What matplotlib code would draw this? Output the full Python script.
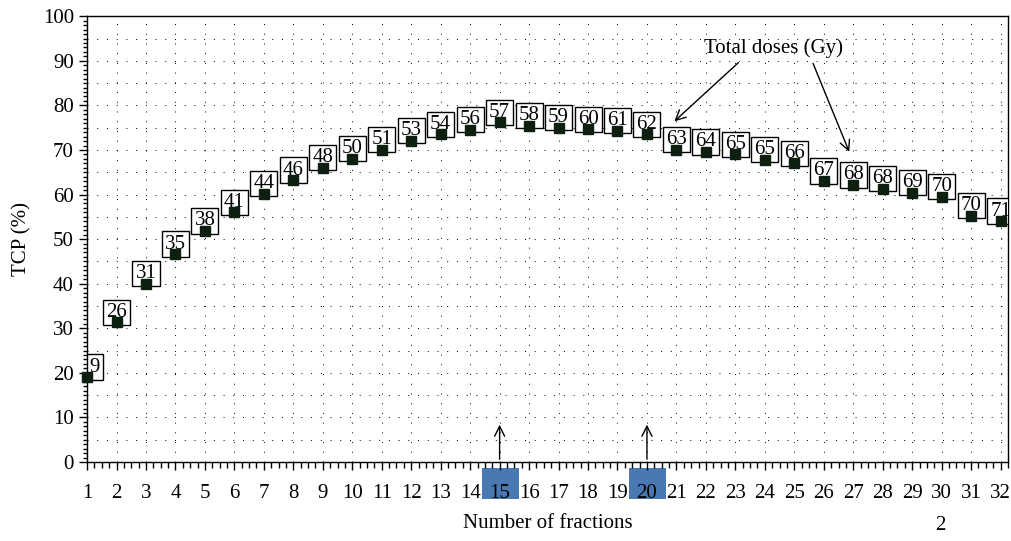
import matplotlib
matplotlib.use("Agg")
import matplotlib.pyplot as plt
from matplotlib.patches import Rectangle
from matplotlib.ticker import MultipleLocator, FixedLocator
import matplotlib.transforms as mtransforms

plt.rcParams["font.family"] = ["Liberation Serif", "DejaVu Serif"]

# Data
fractions = list(range(1, 33))
tcp = [19, 31.3, 40, 46.6, 51.8, 56, 60.2, 63.2, 66, 68, 70, 72, 73.5, 74.5, 76.2,
       75.4, 75, 74.6, 74.3, 73.5, 70, 69.5, 69, 67.8, 67, 63, 62.1, 61.3, 60.4,
       59.5, 55.2, 54]
dose_labels = ["9", "26", "31", "35", "38", "41", "44", "46", "48", "50", "51", "53",
               "54", "56", "57", "58", "59", "60", "61", "62", "63", "64", "65", "65",
               "66", "67", "68", "68", "69", "70", "70", "71"]
highlighted = [15, 20]

fig = plt.figure(figsize=(10.12, 5.41), dpi=100)
ax = fig.add_axes([0.086, 0.146, 0.910, 0.824])

ax.set_xlim(1, 32.25)
ax.set_ylim(0, 100)

# dotted grid
dot = (0, (1, 9))
for xv in fractions:
    ax.axvline(xv, color="black", lw=0.7, ls=dot, zorder=0)
for yv in range(5, 100, 5):
    ax.axhline(yv, color="black", lw=0.7, ls=dot, zorder=0)

ax.plot(fractions, tcp, ls="none", marker="s", ms=7, color="#0d1f10",
        markeredgecolor="#0d1f10", zorder=4, clip_on=False)

box = dict(boxstyle="square,pad=0.15", facecolor="white", edgecolor="black", lw=1.0)
for i, (xv, yv, lab) in enumerate(zip(fractions, tcp, dose_labels)):
    if i == 0:
        ann = ax.annotate(lab, xy=(xv, yv), xytext=(2, 0.5), textcoords="offset points",
                          ha="left", va="bottom", fontsize=15, zorder=3, bbox=box)
    else:
        ann = ax.annotate(lab, xy=(xv, yv), xytext=(0, 0.5), textcoords="offset points",
                          ha="center", va="bottom", fontsize=15, zorder=3, bbox=box)
    ann.set_clip_path(ax.patch)

# arrows marking chosen fraction numbers
for xv in highlighted:
    ax.annotate("", xy=(xv, 9), xytext=(xv, 0),
                arrowprops=dict(arrowstyle="->", color="black", lw=1.0,
                                mutation_scale=18))

trans = mtransforms.blended_transform_factory(ax.transData, ax.transAxes)
for xv in highlighted:
    ax.add_patch(Rectangle((xv - 0.6, -0.083), 1.26, 0.07, transform=trans,
                           facecolor="#4a78b2", edgecolor="none", clip_on=False,
                           zorder=0))

ax.text(24.3, 92.8, "Total doses (Gy)", ha="center", va="center", fontsize=15)
ax.annotate("", xy=(20.86, 76), xytext=(23.17, 90),
            arrowprops=dict(arrowstyle="->", color="black", lw=1.0, mutation_scale=18))
ax.annotate("", xy=(26.9, 69), xytext=(25.6, 90),
            arrowprops=dict(arrowstyle="->", color="black", lw=1.0, mutation_scale=18))

ax.xaxis.set_major_locator(FixedLocator(fractions))
ax.xaxis.set_minor_locator(MultipleLocator(0.25))
ax.yaxis.set_major_locator(MultipleLocator(10))
ax.yaxis.set_minor_locator(MultipleLocator(1))
ax.tick_params(axis="x", which="major", direction="out", length=6, width=1.0,
               pad=10, labelsize=15)
ax.tick_params(axis="x", which="minor", direction="out", length=4, width=1.0)
ax.tick_params(axis="y", which="major", direction="out", length=6, width=1.0,
               labelsize=15)
ax.tick_params(axis="y", which="minor", direction="out", length=3, width=1.0)
for sp in ax.spines.values():
    sp.set_linewidth(1.0)

ax.set_xlabel("Number of fractions", fontsize=15, labelpad=8)
ax.set_ylabel("TCP (%)", fontsize=15, labelpad=8)
fig.text(0.929, 0.02, "2", fontsize=15, ha="center")

fig.savefig("out.png", dpi=100)
